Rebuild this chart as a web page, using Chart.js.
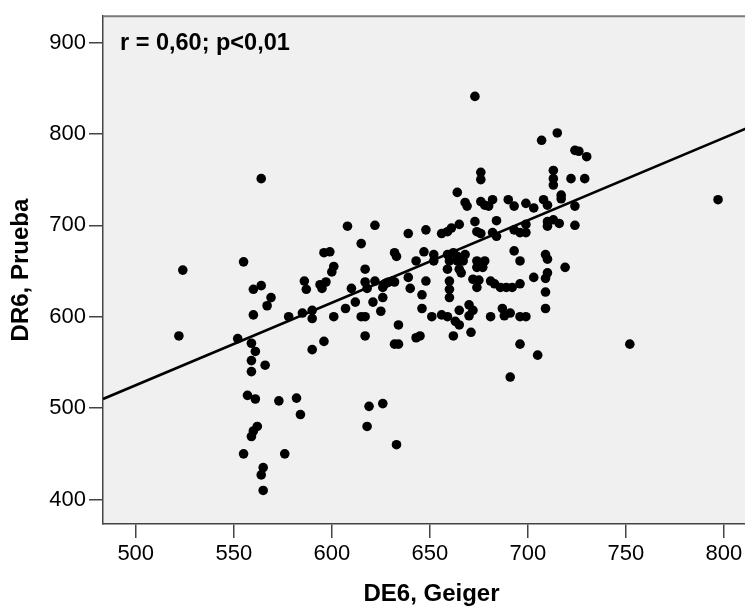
<!DOCTYPE html>
<html>
<head>
<meta charset="utf-8">
<script src="https://cdn.jsdelivr.net/npm/chart.js@4"></script>
<style>
  html, body { margin: 0; padding: 0; background: #ffffff; overflow: hidden; }
  #wrap { position: relative; width: 770px; height: 606px; }
</style>
</head>
<body>
<div id="wrap"><canvas id="scatterChart"></canvas></div>
<script>
// DE6, Geiger (x) and DR6, Prueba (y)
const geigerX = [
  524, 522, 555, 560, 564, 569, 567, 560, 552, 559, 561, 559, 559, 566, 557, 561, 573, 582, 584, 562,
  560, 559, 555, 576, 565, 564, 565, 564, 578, 585, 590, 590, 586, 587, 594, 595, 597, 596, 599, 601,
  600, 608, 622, 615, 617, 610, 617, 618, 622, 627, 629, 632, 626, 612, 621, 607, 601, 615, 617, 625,
  617, 590, 596, 632, 633, 634, 632, 634, 619, 626, 618, 633, 626,
  673, 707, 715, 724, 726, 730, 797, 713, 713, 713, 722, 729, 676, 676, 664, 717, 717, 668, 669, 676,
  678, 680, 682, 690, 693, 699, 703, 708, 710, 724, 684, 673, 674, 676, 682, 684, 693, 696, 699, 699,
  710, 710, 713, 716, 724, 639, 648, 656, 659, 661, 665,
  647, 652, 652, 643, 659, 662, 664, 668, 660, 664, 667, 665, 666, 659, 660, 660, 660, 674, 678, 674,
  677, 672, 675, 674, 681, 683, 686, 689, 692, 696, 693, 696, 703, 709, 710, 709, 710, 719, 709, 639,
  640, 648, 646, 646, 651, 656, 659, 665, 663, 665, 670, 672, 670, 681, 687, 688, 691, 696, 699, 709,
  643, 645, 662, 671, 696, 705, 691, 752, 631, 628
];
const pruebaY = [
  651, 579, 660, 630, 634, 621, 612, 602, 576, 571, 562, 552, 540, 547, 514, 510, 508, 511, 493, 480,
  475, 469, 450, 450, 435, 427, 410, 751, 600, 604, 607, 598, 639, 630, 635, 631, 638, 670, 671, 655,
  649, 699, 700, 680, 652, 631, 638, 631, 639, 636, 638, 638, 621, 616, 616, 609, 600, 600, 600, 606,
  579, 564, 573, 670, 666, 591, 570, 570, 502, 505, 480, 460, 632,
  841, 793, 801, 782, 781, 775, 728, 760, 751, 744, 751, 751, 758, 750, 736, 733, 729, 725, 721, 726,
  722, 721, 728, 728, 721, 724, 719, 728, 722, 721, 705, 704, 693, 691, 692, 688, 695, 692, 701, 692,
  704, 699, 706, 702, 700, 691, 695, 691, 693, 697, 701,
  671, 668, 661, 661, 668, 670, 666, 668, 661, 661, 661, 652, 648, 652, 639, 630, 621, 661, 661, 654,
  654, 641, 640, 632, 639, 636, 632, 632, 632, 636, 672, 661, 643, 642, 648, 668, 663, 654, 627, 643,
  631, 639, 624, 609, 600, 602, 600, 607, 595, 591, 613, 607, 601, 600, 609, 601, 604, 600, 600, 609,
  577, 579, 579, 583, 570, 558, 534, 570, 639, 637
];

// fit line end points at the plot edges
const fitX = [483.3, 818.4];
const fitY = [510, 812.3];

const xTickValues = [500, 550, 600, 650, 700, 750, 800];
const yTickValues = [400, 500, 600, 700, 800, 900];

const annotationText = 'r = 0,60; p<0,01';
const xTitle = 'DE6, Geiger';
const yTitle = 'DR6, Prueba';

const FONT = "'Liberation Sans', Arial, sans-serif";

const plotBoxPlugin = {
  id: 'plot_box',

  beforeDraw: function(chart) {
    const area = chart.chartArea;
    const ctx = chart.ctx;
    ctx.save();
    ctx.fillStyle = '#f0f0f0';
    ctx.fillRect(area.left, area.top, area.right - area.left, area.bottom - area.top);
    ctx.restore();
  },

  afterDraw: function(chart, args, options) {
    const area = chart.chartArea;
    const ctx = chart.ctx;
    ctx.save();
    // top edge of the frame
    ctx.strokeStyle = '#7a7a7a';
    ctx.lineWidth = 2;
    ctx.beginPath();
    ctx.moveTo(area.left, area.top);
    ctx.lineTo(area.right, area.top);
    ctx.stroke();

    // r / p label in the corner
    ctx.fillStyle = '#000000';
    ctx.font = 'bold 23.5px ' + FONT;
    ctx.textAlign = 'left';
    ctx.textBaseline = 'alphabetic';
    ctx.fillText(options.text, area.left + 17, 50);
    ctx.restore();
  }
};

function initChart() {
  Chart.register(plotBoxPlugin);
  Chart.defaults.font.family = FONT;
  Chart.defaults.color = '#000000';

  const points = geigerX.map((x, i) => ({ x: x, y: pruebaY[i] }));
  const fitLine = fitX.map((x, i) => ({ x: x, y: fitY[i] }));

  const ctx = document.getElementById('scatterChart');
  return new Chart(ctx, {
    type: 'scatter',
    data: {
      datasets: [
        {
          type: 'line',
          data: fitLine,
          borderColor: '#000000',
          borderWidth: 2.6,
          pointRadius: 0,
          fill: false
        },
        {
          data: points,
          backgroundColor: '#000000',
          borderWidth: 0,
          pointRadius: 4.8,
          pointHoverRadius: 4.8
        }
      ]
    },
    options: {
      responsive: true,
      maintainAspectRatio: false,
      animation: false,
      events: [],
      layout: {
        padding: { top: 11, right: 10, left: 0, bottom: 0 }
      },
      scales: {
        x: {
          type: 'linear',
          min: 483.3,
          max: 818.4,
          afterBuildTicks: function(scale) {
            scale.ticks = xTickValues.map(v => ({ value: v }));
          },
          afterFit: function(scale) {
            scale.height = 82;
          },
          grid: {
            drawOnChartArea: false,
            drawTicks: true,
            tickLength: 14,
            color: '#444444',
            lineWidth: 1.5
          },
          border: { display: true, color: '#444444', width: 1.5 },
          ticks: {
            padding: 3,
            maxRotation: 0,
            font: { size: 22 },
            color: '#000000',
            callback: v => String(v)
          },
          title: {
            display: true,
            text: xTitle,
            font: { size: 24, weight: 'bold', lineHeight: 1 },
            color: '#000000',
            padding: { top: 0, bottom: 0 }
          }
        },
        y: {
          type: 'linear',
          min: 373.3,
          max: 928.7,
          afterBuildTicks: function(scale) {
            scale.ticks = yTickValues.map(v => ({ value: v }));
          },
          afterFit: function(scale) {
            scale.width = 103;
          },
          grid: {
            drawOnChartArea: false,
            drawTicks: true,
            tickLength: 14,
            color: '#444444',
            lineWidth: 1.5
          },
          border: { display: true, color: '#444444', width: 1.5 },
          ticks: {
            padding: 3,
            font: { size: 22 },
            color: '#000000',
            callback: v => String(v)
          },
          title: {
            display: true,
            text: yTitle,
            font: { size: 24, weight: 'bold' },
            color: '#000000',
            padding: { top: 7, bottom: 0 }
          }
        }
      },
      plugins: {
        legend: { display: false },
        tooltip: { enabled: false },
        plot_box: { text: annotationText }
      }
    }
  });
}

var g_chart = initChart();
</script>
</body>
</html>
